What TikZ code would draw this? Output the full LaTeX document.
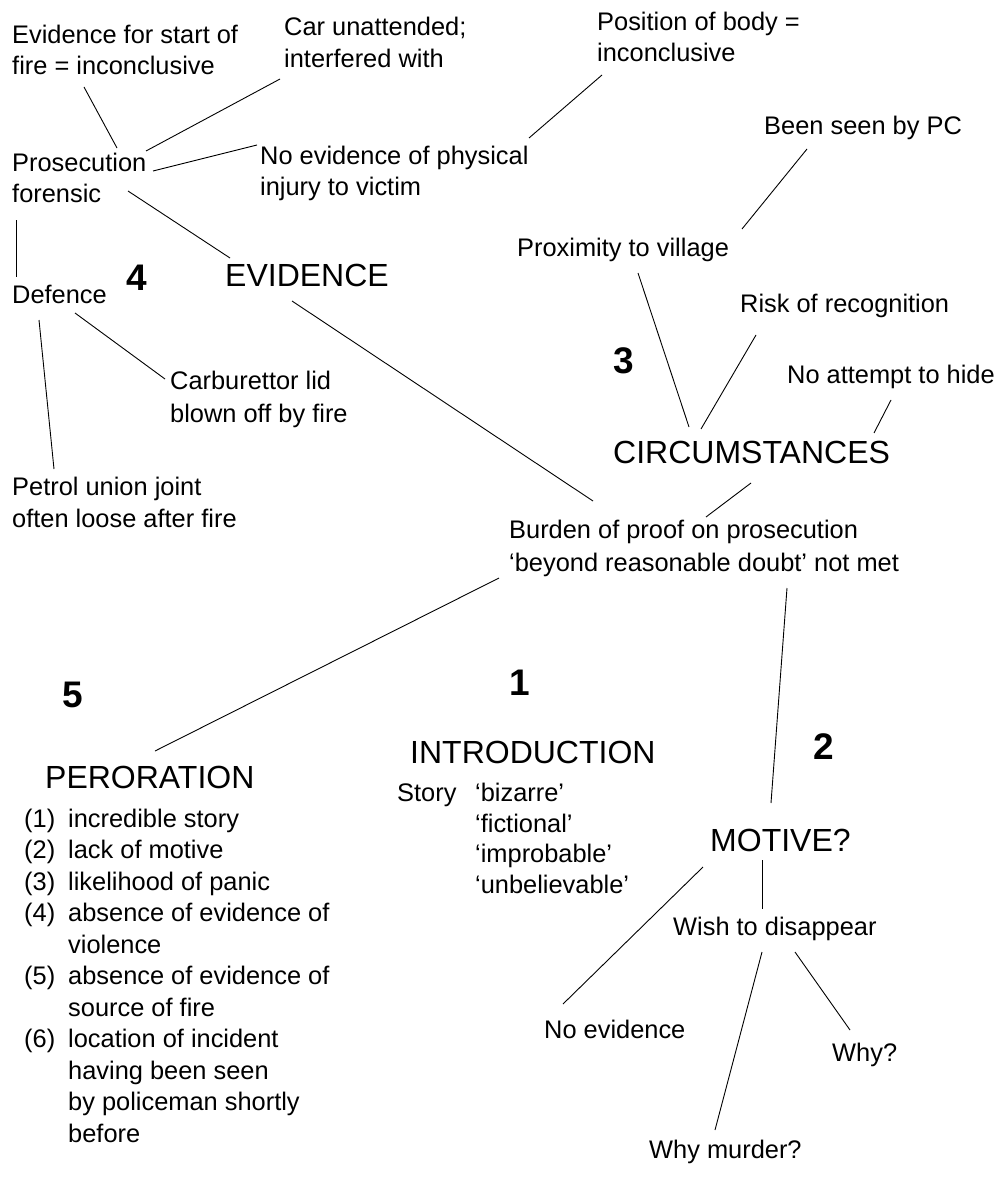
\documentclass[tikz,border=0pt]{standalone}
\usepackage{fontspec}
\setmainfont{Liberation Sans}
\begin{document}
\begin{tikzpicture}[x=1pt,y=-1pt,
  txt/.style={font=\fontsize{25.4}{31.5}\selectfont, inner sep=0pt, anchor=base west, align=left},
  head/.style={font=\fontsize{32}{38}\selectfont, inner sep=0pt, anchor=base west},
  num/.style={font=\fontsize{37}{44}\selectfont\bfseries, inner sep=0pt, anchor=base west},
  link/.style={draw=black, line width=0.9pt}]
\fill[white] (0,0) rectangle (999,1180);
\useasboundingbox (0,0) rectangle (999,1180);

% nodes (multi-line nodes are placed by the baseline of their last line)
\node[txt, font=\fontsize{25.4}{31}\selectfont] (ev1) at (12,75) {Evidence for start of\\fire = inconclusive};
\node[txt, font=\fontsize{25.4}{32}\selectfont] (car) at (284,68) {Car unattended;\\interfered with};
\node[txt, font=\fontsize{25.4}{31}\selectfont] (pos) at (597,62) {Position of body =\\inconclusive};
\node[txt, font=\fontsize{25.4}{31}\selectfont] (pros) at (12,202) {Prosecution\\forensic};
\node[txt, font=\fontsize{25.4}{31}\selectfont] (noev) at (260,195) {No evidence of physical\\injury to victim};
\node[txt] (been) at (764,135) {Been seen by PC};
\node[head] (evid) at (225,286) {EVIDENCE};
\node[num] (n4) at (126,290) {4};
\node[txt] (prox) at (517,256) {Proximity to village};
\node[txt] (def) at (12,303) {Defence};
\node[txt] (risk) at (740,312) {Risk of recognition};
\node[num] (n3) at (613,373) {3};
\node[txt] (hide) at (787,383) {No attempt to hide};
\node[txt, font=\fontsize{25.4}{33}\selectfont] (carb) at (170,422) {Carburettor lid\\blown off by fire};
\node[head] (circ) at (613,463) {CIRCUMSTANCES};
\node[txt, font=\fontsize{25.4}{32}\selectfont] (petrol) at (12,527) {Petrol union joint\\often loose after fire};
\node[txt, font=\fontsize{25.4}{33}\selectfont] (burden) at (509,571) {Burden of proof on prosecution\\‘beyond reasonable doubt’ not met};
\node[num] (n5) at (62,707) {5};
\node[num] (n1) at (509,695) {1};
\node[num] (n2) at (813,759) {2};
\node[head] (intro) at (410,763) {INTRODUCTION};
\node[head] (per) at (45,788) {PERORATION};
\node[txt, font=\fontsize{25.4}{30.4}\selectfont] (story) at (397,893)
  {\makebox[78pt][l]{Story}‘bizarre’\\\hspace*{78pt}‘fictional’\\\hspace*{78pt}‘improbable’\\\hspace*{78pt}‘unbelievable’};
\node[txt] (list) at (24,1142)
  {\makebox[44pt][l]{(1)}incredible story\\
   \makebox[44pt][l]{(2)}lack of motive\\
   \makebox[44pt][l]{(3)}likelihood of panic\\
   \makebox[44pt][l]{(4)}absence of evidence of\\
   \hspace*{44pt}violence\\
   \makebox[44pt][l]{(5)}absence of evidence of\\
   \hspace*{44pt}source of fire\\
   \makebox[44pt][l]{(6)}location of incident\\
   \hspace*{44pt}having been seen\\
   \hspace*{44pt}by policeman shortly\\
   \hspace*{44pt}before};
\node[head] (motive) at (710,851) {MOTIVE?};
\node[txt] (wish) at (673,935) {Wish to disappear};
\node[txt] (noevid) at (544,1038) {No evidence};
\node[txt] (why) at (832,1061) {Why?};
\node[txt] (whym) at (649,1158) {Why murder?};

% connectors
\draw[link] ([shift={(72,12)}]ev1.base west) -- ([shift={(105,-54)}]pros.base west);
\draw[link] ([shift={(-4,11)}]car.base west) -- ([shift={(134,-51)}]pros.base west);
\draw[link] ([shift={(-3,-50)}]noev.base west) -- ([shift={(141,-31)}]pros.base west);
\draw[link] ([shift={(116,-11)}]pros.base west) -- ([shift={(5,-28)}]evid.base west);
\draw[link] ([shift={(4,18)}]pros.base west) -- ([shift={(4,-26)}]def.base west);
\draw[link] ([shift={(5,13)}]pos.base west) -- ([shift={(269,-57)}]noev.base west);
\draw[link] ([shift={(43,14)}]been.base west) -- ([shift={(225,-27)}]prox.base west);
\draw[link] ([shift={(121,17)}]prox.base west) -- ([shift={(76,-36)}]circ.base west);
\draw[link] ([shift={(16,23)}]risk.base west) -- ([shift={(88,-34)}]circ.base west);
\draw[link] ([shift={(104,17)}]hide.base west) -- ([shift={(261,-30)}]circ.base west);
\draw[link] ([shift={(138,20)}]circ.base west) -- ([shift={(197,-54)}]burden.base west);
\draw[link] ([shift={(67,15)}]evid.base west) -- ([shift={(84,-70)}]burden.base west);
\draw[link] ([shift={(63,10)}]def.base west) -- ([shift={(-5,-43)}]carb.base west);
\draw[link] ([shift={(27,17)}]def.base west) -- ([shift={(42,-58)}]petrol.base west);
\draw[link] ([shift={(-10,7)}]burden.base west) -- ([shift={(110,-37)}]per.base west);
\draw[link] ([shift={(278,17)}]burden.base west) -- ([shift={(61,-48)}]motive.base west);
\draw[link] ([shift={(-7,16)}]motive.base west) -- ([shift={(19,-34)}]noevid.base west);
\draw[link] ([shift={(52,9)}]motive.base west) -- ([shift={(89,-26)}]wish.base west);
\draw[link] ([shift={(89,17)}]wish.base west) -- ([shift={(66,-28)}]whym.base west);
\draw[link] ([shift={(122,17)}]wish.base west) -- ([shift={(18,-31)}]why.base west);
\end{tikzpicture}
\end{document}
